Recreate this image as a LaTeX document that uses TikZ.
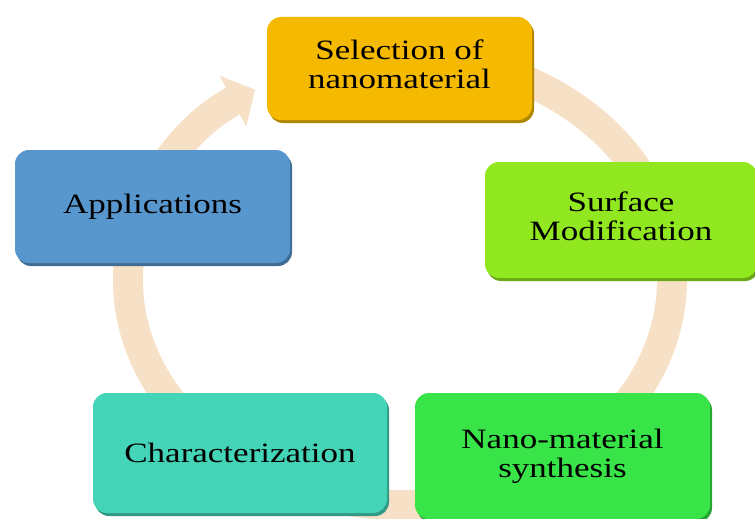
\documentclass[tikz,border=0pt]{standalone}
\usepackage{fontspec}
\setmainfont{Liberation Serif}[FakeStretch=1.25]
\usetikzlibrary{arrows.meta}
\definecolor{selcol}{RGB}{245,186,0}
\definecolor{surfcol}{RGB}{146,232,32}
\definecolor{synthcol}{RGB}{56,228,72}
\definecolor{charcol}{RGB}{68,212,184}
\definecolor{appcol}{RGB}{88,150,206}
\definecolor{ringcol}{RGB}{247,225,198}
\tikzset{stage/.style={rounded corners=14pt, fill=#1, align=center, text=black,
		font=\fontsize{28}{29}\selectfont, inner sep=0pt,
		preaction={fill=#1!72!black, transform canvas={xshift=2pt, yshift=-3pt}}},
	cycle_arrow/.style={line width=30pt, draw=ringcol, -{Triangle[length=25pt, width=56pt]}}
}

\begin{document}
\begin{tikzpicture}[x=1pt, y=-1pt]
	\useasboundingbox (0,0) rectangle (755,519);
	
	% ring behind the boxes
	\coordinate (ring) at (400,280);
	\draw[cycle_arrow] (ring) ++(-80:272 and 225) arc[start angle=-80, end angle=237.8, x radius=272, y radius=225];
	
	\node[stage=selcol, minimum width=265, minimum height=103] (sel) at (399.5,68.5) {\raisebox{7pt}{\begin{tabular}{@{}c@{}}Selection of\\nanomaterial\end{tabular}}};
	\node[stage=surfcol, minimum width=272, minimum height=116] (surf) at (621,220) {\raisebox{6pt}{\begin{tabular}{@{}c@{}}Surface\\Modification\end{tabular}}};
	\node[stage=synthcol, minimum width=295, minimum height=126] (synth) at (562.5,456) {Nano-material\\synthesis};
	\node[stage=charcol, minimum width=294, minimum height=120] (char) at (240,453) {Characterization};
	\node[stage=appcol, minimum width=275, minimum height=113] (app) at (152.5,206.5) {Applications};
\end{tikzpicture}
\end{document}
